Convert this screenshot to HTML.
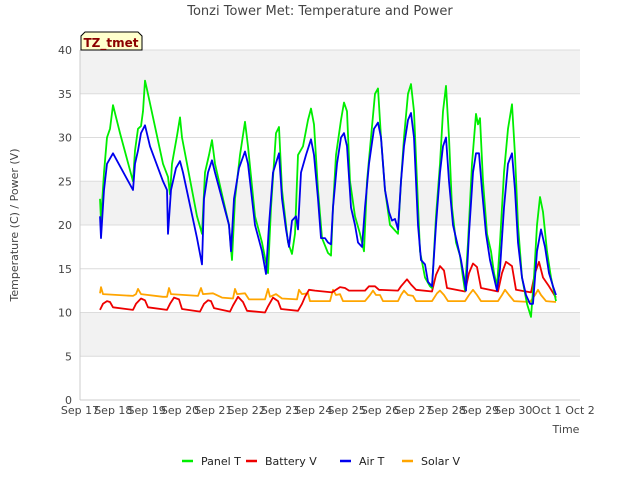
<!DOCTYPE html>
<html><head><meta charset="utf-8"><style>
body{margin:0;background:#fff;font-family:"Liberation Sans","DejaVu Sans",sans-serif;}
svg text{font-family:"DejaVu Sans","Liberation Sans",sans-serif;}
</style></head><body>
<svg id="chart" width="640" height="480" xmlns="http://www.w3.org/2000/svg">
<rect x="0" y="0" width="640" height="480" fill="#fff"/>
<g id="bands"></g><g id="grid"></g>
<line x1="80" y1="50" x2="80" y2="400" stroke="#ccc"/>
<line x1="80" y1="400" x2="580" y2="400" stroke="#ccc"/>
<g id="ticks"></g>
<g id="series"></g>
<text x="320" y="15" text-anchor="middle" font-size="13" fill="#444">Tonzi Tower Met: Temperature and Power</text>
<text x="18" y="225" text-anchor="middle" font-size="11" fill="#444" transform="rotate(-90 18 225)">Temperature (C) / Power (V)</text>
<text x="566" y="433" text-anchor="middle" font-size="11" fill="#444">Time</text>
<g>
<path d="M81,50 L81,36 L85,32 L138,32 L142,36 L142,50 Z" fill="#ffffcc" stroke="#000" stroke-width="1"/>
<text x="111" y="47" text-anchor="middle" font-size="12" font-weight="bold" fill="#8b0000">TZ_tmet</text>
</g>
<g id="legend"></g>
</svg>
<script>
const yTicks=[0,5,10,15,20,25,30,35,40];
const xTickLabels=["Sep 17","Sep 18","Sep 19","Sep 20","Sep 21","Sep 22","Sep 23","Sep 24","Sep 25","Sep 26","Sep 27","Sep 28","Sep 29","Sep 30","Oct 1","Oct 2"];
const seriesNames=["Panel T","Battery V","Air T","Solar V"];
const seriesColors=["#00ee00","#ee0000","#0000ee","#ffa500"];
const panelT_t=[0.6,0.63,0.72,0.81,0.9,0.99,1.2,1.59,1.65,1.74,1.83,1.89,1.95,2.01,2.49,2.64,2.7,2.76,2.91,3.0,3.06,3.51,3.66,3.75,3.87,3.96,4.05,4.47,4.56,4.65,4.8,4.95,5.04,5.25,5.46,5.64,5.73,5.88,5.97,6.06,6.24,6.36,6.45,6.54,6.69,6.84,6.93,7.02,7.14,7.26,7.44,7.53,7.59,7.68,7.83,7.92,8.01,8.1,8.25,8.4,8.52,8.61,8.73,8.85,8.94,9.03,9.15,9.3,9.42,9.54,9.63,9.72,9.84,9.93,10.02,10.11,10.2,10.35,10.5,10.56,10.68,10.8,10.89,10.98,11.07,11.16,11.28,11.4,11.49,11.55,11.64,11.76,11.88,11.94,12.0,12.09,12.21,12.33,12.42,12.51,12.6,12.72,12.84,12.96,13.05,13.14,13.26,13.41,13.53,13.62,13.71,13.8,13.89,14.01,14.13,14.28];
const panelT_v=[23,20.5,26,30,31,33.7,30.5,25,28.5,31,31.3,33,36.5,35.5,27,25.5,23.5,27,30.2,32.3,30,21,19,26,28,29.7,27,20,16,23,28,31.8,29,21,18,14.5,22,30.5,31.2,24,18,16.7,19,28,29,32,33.3,31.5,24,18.5,16.8,16.5,22,28,32,34,33,25,21,19,17,25,30,35,35.6,30,24,20,19.5,19,25,30,35,36.1,33,25,17,14,13,12.8,21,27,33,35.9,30,22,18,16.5,14,12.5,18,27,32.7,31.5,32.2,25,19,17,14.5,13,18,26,31,33.8,28,20,14,11,9.5,14,20,23.2,21.5,17,14,11.3];
const airT_t=[0.6,0.63,0.72,0.81,0.99,1.59,1.65,1.74,1.83,1.95,2.1,2.49,2.61,2.64,2.73,2.88,3.0,3.09,3.51,3.66,3.72,3.84,3.96,4.05,4.47,4.53,4.62,4.77,4.95,5.04,5.16,5.25,5.46,5.58,5.67,5.79,5.97,6.06,6.18,6.27,6.36,6.48,6.54,6.63,6.78,6.93,7.02,7.14,7.23,7.35,7.44,7.53,7.59,7.71,7.83,7.92,8.01,8.13,8.25,8.34,8.46,8.55,8.67,8.82,8.94,9.03,9.15,9.27,9.36,9.45,9.54,9.63,9.72,9.84,9.93,10.02,10.14,10.23,10.35,10.44,10.56,10.68,10.8,10.89,10.98,11.07,11.19,11.31,11.43,11.52,11.58,11.67,11.79,11.88,11.97,12.06,12.18,12.3,12.42,12.51,12.6,12.72,12.84,12.96,13.05,13.14,13.26,13.38,13.5,13.59,13.71,13.83,13.95,14.07,14.19,14.28];
const airT_v=[21,18.5,24,27,28.2,24,27,28.5,30.5,31.4,29,25,24,19,24,26.5,27.3,26,18.5,15.5,23,26,27.4,26,20,17,23,26.5,28.4,27,23,20,17,14.4,20,26,28.2,23,19.5,17.5,20.5,21,19.5,26,28,29.8,28,23,18.5,18.5,18,17.8,22,27,30,30.5,29,22,20,18,17.5,22,27,31,31.7,30,24,21.5,20.5,20.7,19.5,25,29,32,32.8,30,20,16,15.5,13.5,13,20,26,29,30,25,20,18,16,14,12.5,19,26,28.2,28.2,24,19,16,14,12.5,15,22,27,28.2,24,18,14,12,11,11,17,19.5,17.5,14.5,13,12];
const battV_t=[0.6,0.69,0.81,0.9,0.99,1.59,1.68,1.83,1.95,2.04,2.61,2.7,2.82,2.97,3.06,3.6,3.72,3.84,3.93,4.02,4.5,4.59,4.74,4.89,5.01,5.55,5.64,5.79,5.94,6.03,6.54,6.66,6.75,6.87,7.05,7.56,7.68,7.8,7.95,8.07,8.55,8.67,8.85,8.97,9.54,9.63,9.81,9.93,10.08,10.56,10.68,10.8,10.92,11.01,11.55,11.67,11.79,11.91,12.03,12.54,12.66,12.78,12.96,13.08,13.53,13.65,13.77,13.89,14.07,14.28];
const battV_v=[10.3,11,11.3,11.2,10.6,10.3,11,11.6,11.4,10.6,10.3,11,11.7,11.5,10.4,10.1,11,11.4,11.3,10.5,10.1,10.8,11.8,11.2,10.2,10,10.7,11.7,11.3,10.4,10.2,11,11.8,12.6,12.5,12.3,12.6,12.9,12.8,12.5,12.5,13,13,12.6,12.5,13,13.8,13.2,12.6,12.4,14.3,15.3,14.8,12.8,12.4,14.5,15.6,15.2,12.8,12.4,14.5,15.8,15.3,12.6,12.3,14.5,15.8,14,13,11.7];
const solarV_t=[0.6,0.63,0.69,1.59,1.68,1.74,1.83,2.49,2.61,2.67,2.73,3.54,3.63,3.69,3.99,4.26,4.59,4.65,4.71,4.95,5.07,5.55,5.64,5.7,5.88,6.06,6.51,6.57,6.66,6.84,6.9,7.5,7.59,7.68,7.8,7.89,8.55,8.7,8.79,8.88,9.0,9.09,9.54,9.63,9.72,9.84,9.99,10.08,10.56,10.71,10.8,10.92,11.04,11.55,11.67,11.79,11.91,12.03,12.54,12.66,12.75,12.87,13.02,13.5,13.65,13.74,13.83,13.98,14.28];
const solarV_v=[12.2,12.9,12.1,11.9,12.1,12.7,12.1,11.8,11.8,12.8,12.1,11.9,12.8,12.1,12.2,11.7,11.6,12.7,12.1,12.2,11.5,11.5,12.7,11.8,12.1,11.6,11.5,12.6,12.1,12.2,11.3,11.3,12.6,12,12.1,11.3,11.3,12,12.5,12,12,11.3,11.3,12,12.5,12,11.9,11.3,11.3,12.2,12.5,12,11.3,11.3,12,12.6,12,11.3,11.3,12,12.6,12,11.3,11.2,12,12.6,12,11.3,11.2];

const NS="http://www.w3.org/2000/svg";
const X0=80,X1=580,Y0=400,Y1=50,DAYS=15,YMAX=40;
function xs(d){return X0+(X1-X0)*d/DAYS;}
function ys(v){return Y0-(Y0-Y1)*v/YMAX;}
function mk(tag,attrs,parent){const e=document.createElementNS(NS,tag);for(const k in attrs)e.setAttribute(k,attrs[k]);parent.appendChild(e);return e;}

const bands=document.getElementById('bands');
[[35,40],[20,25],[5,10]].forEach(b=>{
  const r=mk('rect',{x:X0,y:ys(b[1]),width:X1-X0,height:ys(b[0])-ys(b[1]),fill:'#f2f2f2'},bands);
  
  
});
const grid=document.getElementById('grid'),ticks=document.getElementById('ticks');
yTicks.forEach(v=>{
  const l=mk('line',{x1:X0,x2:X1,y1:ys(v),y2:ys(v),stroke:'#dcdcdc'},grid);
  
  
  const t=mk('text',{x:X0-8,y:ys(v)+4,'text-anchor':'end','font-size':'11',fill:'#444'},ticks);
  t.textContent=v;
  
  
});
xTickLabels.forEach((s,i)=>{
  const t=mk('text',{x:xs(i),y:414,'text-anchor':'middle','font-size':'11',fill:'#444'},ticks);
  t.textContent=s;
  
  
});
const ser=document.getElementById('series');
const allT=[panelT_t,battV_t,airT_t,solarV_t],allV=[panelT_v,battV_v,airT_v,solarV_v];
[3,1,0,2].forEach(i=>{
  const pts=allT[i].map((d,j)=>xs(d).toFixed(1)+','+ys(allV[i][j]).toFixed(1)).join(' ');
  const p=mk('polyline',{points:pts,fill:'none',stroke:seriesColors[i],'stroke-width':'1.8','stroke-linejoin':'round'},ser);
  
  
});
const leg=document.getElementById('legend');
const legX=[182,246,340,402];
seriesNames.forEach((n,i)=>{
  const g=mk('g',{},leg);
  
  
  mk('line',{x1:legX[i],x2:legX[i]+11,y1:461,y2:461,stroke:seriesColors[i],'stroke-width':'2.5'},g);
  const t=mk('text',{x:legX[i]+19,y:465,'font-size':'11',fill:'#222'},g);
  t.textContent=n;
});
</script>
</body></html>
